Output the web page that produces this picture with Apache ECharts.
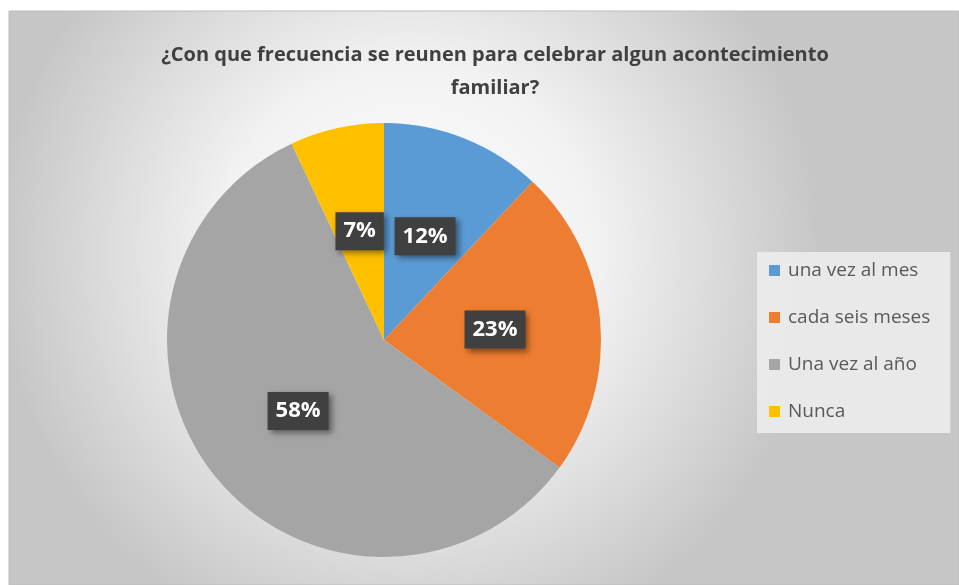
<!DOCTYPE html>
<html>
<head>
<meta charset="utf-8">
<script src="https://cdn.jsdelivr.net/npm/echarts@6/dist/echarts.min.js"></script>
<style>
  html, body { margin: 0; padding: 0; background: #fff; }
  #chart { width: 959px; height: 585px; }
</style>
</head>
<body>
<div id="chart"></div>
<script>
var categories = ['una vez al mes', 'cada seis meses', 'Una vez al año', 'Nunca'];
var values = [12, 23, 58, 7];
var colors = ['#5B9BD5', '#ED7D31', '#A5A5A5', '#FFC000'];

var chart = echarts.init(document.getElementById('chart'));

var pieData = [];
for (var i = 0; i < categories.length; i++) {
    pieData.push({ name: categories[i], value: values[i], itemStyle: { color: colors[i] } });
}

var option = {
    animation: false,
    graphic: [
        {
            type: 'rect',
            z: -10,
            shape: { x: 9, y: 11, width: 950, height: 574 },
            style: {
                fill: {
                    type: 'radial', x: 0.42, y: 0.42, r: 0.72,
                    colorStops: [
                        { offset: 0, color: '#ffffff' },
                        { offset: 0.45, color: '#f2f2f2' },
                        { offset: 1, color: '#c6c6c6' }
                    ]
                },
                stroke: '#bdbdbd',
                lineWidth: 1
            }
        }
    ],
    title: {
        text: '¿Con que frecuencia se reunen para celebrar algun acontecimiento\nfamiliar?',
        left: 490,
        top: 34,
        textAlign: 'center',
        textStyle: {
            fontFamily: 'Open Sans',
            fontWeight: 'bold',
            fontSize: 20,
            color: '#404040',
            lineHeight: 33
        }
    },
    legend: {
        orient: 'vertical',
        left: 757,
        top: 252,
        itemWidth: 11,
        itemHeight: 11,
        itemGap: 28,
        icon: 'rect',
        padding: [9, 20, 12, 12],
        backgroundColor: 'rgba(238,238,238,0.85)',
        textStyle: {
            fontFamily: 'Open Sans',
            fontSize: 19,
            color: '#595959',
            padding: [0, 0, 0, 3]
        },
        data: categories
    },
    series: [
        {
            type: 'pie',
            center: [384, 340],
            radius: 217,
            startAngle: 90,
            clockwise: true,
            itemStyle: { borderWidth: 0 },
            label: {
                show: true,
                position: 'inside',
                formatter: '{c}%',
                fontFamily: 'Open Sans',
                fontWeight: 'bold',
                fontSize: 22,
                color: '#ffffff',
                backgroundColor: '#404040',
                padding: [9, 8, 7, 8],
                shadowColor: 'rgba(0,0,0,0.45)',
                shadowBlur: 6,
                shadowOffsetX: 3,
                shadowOffsetY: 3
            },
            labelLine: { show: false },
            emphasis: { disabled: true },
            data: pieData
        }
    ]
};

chart.setOption(option);
</script>
</body>
</html>
